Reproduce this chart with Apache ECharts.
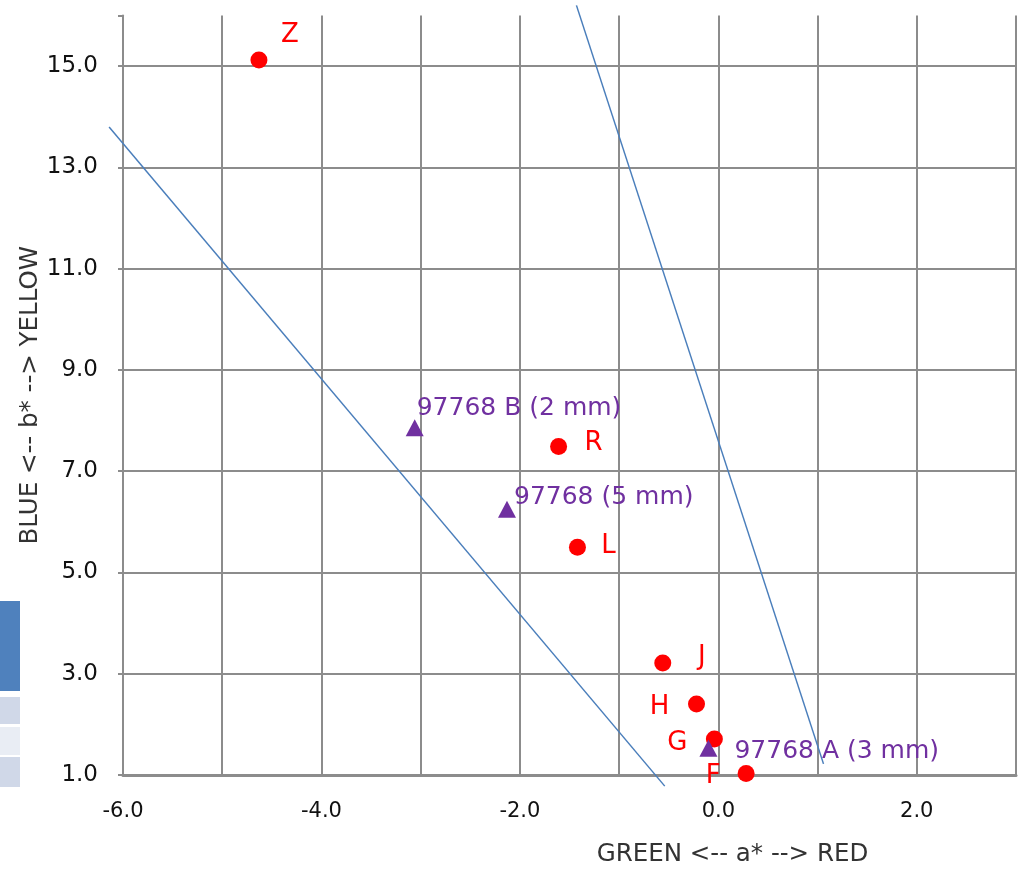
<!DOCTYPE html>
<html>
<head>
<meta charset="utf-8">
<script src="https://cdn.jsdelivr.net/npm/echarts@6/dist/echarts.min.js"></script>
<style>
  html, body { margin: 0; padding: 0; background: #fff; }
  #chart { width: 1019px; height: 872px; }
</style>
</head>
<body>
<div id="chart"></div>
<script>
// samples (red circles)
const sampleNames = ['Z', 'R', 'L', 'J', 'H', 'G', 'F']
const sampleA = [-4.63, -1.61, -1.42, -0.56, -0.22, -0.04, 0.28]
const sampleB = [15.12, 7.49, 5.50, 3.21, 2.40, 1.71, 1.03]

// reference 97768 (purple triangles)
const refNames = ['97768 B (2 mm)', '97768 (5 mm)', '97768 A (3 mm)']
const refA = [-3.06, -2.13, -0.10]
const refB = [7.86, 6.25, 1.53]

// boundary lines, two end points each
const line1A = [-6.14, -0.54]
const line1B = [13.8, 0.78]
const line2A = [-1.43, 1.06]
const line2B = [16.2, 1.22]

// label offsets from the mark centre (style only)
const sampleLabelOffset = {
  Z: [31, -25], R: [35, -3], L: [31, -1], J: [39, -6],
  H: [-37, 3], G: [-37, 4], F: [-33, 3]
}
const refLabelOffset = [[2, -19], [7, -12], [26, 3]]

const chart = echarts.init(document.getElementById('chart'))
const gridGray = '#8c8c8c'
const fontFam = '"DejaVu Sans", sans-serif'
const blueLine = { color: '#4a7ebb', width: 1.5, opacity: 1 }

const option = {
  backgroundColor: '#fff',
  animation: false,
  grid: { left: 123, right: 2, top: 15.5, bottom: 96 },
  xAxis: {
    type: 'value',
    min: -6,
    max: 3,
    interval: 1,
    name: 'GREEN <-- a* --> RED',
    nameLocation: 'middle',
    nameGap: 67,
    nameTextStyle: { fontSize: 24.5, color: '#333', fontFamily: fontFam, padding: [0, 0, 0, 326] },
    axisLine: { show: true, onZero: false, lineStyle: { color: gridGray, width: 3 } },
    axisTick: { show: false },
    axisLabel: {
      margin: 26,
      fontSize: 21,
      color: '#111',
      fontFamily: fontFam,
      formatter: (v) => (Math.round(v) % 2 === 0 && v < 3 ? v.toFixed(1) : '')
    },
    splitLine: { show: true, lineStyle: { color: gridGray, width: 2 } }
  },
  yAxis: {
    type: 'value',
    min: 1,
    max: 16,
    interval: 2,
    name: 'BLUE <-- b* --> YELLOW',
    nameLocation: 'middle',
    nameGap: 80,
    nameMoveOverlap: false,
    nameTextStyle: { fontSize: 24.5, color: '#333', fontFamily: fontFam },
    axisLine: { show: true, onZero: false, lineStyle: { color: gridGray, width: 2 } },
    axisTick: { show: true, length: 5, lineStyle: { color: gridGray, width: 2 } },
    axisLabel: {
      margin: 25,
      fontSize: 23,
      color: '#111',
      fontFamily: fontFam,
      formatter: (v) => (v >= 16 ? '' : v.toFixed(1))
    },
    splitLine: { show: true, showMaxLine: false, lineStyle: { color: gridGray, width: 2 } }
  },
  graphic: [
    { type: 'rect', left: 0, top: 601, shape: { width: 20, height: 90 }, style: { fill: '#4f81bd' } },
    { type: 'rect', left: 0, top: 697, shape: { width: 20, height: 27 }, style: { fill: '#d0d8e8' } },
    { type: 'rect', left: 0, top: 727, shape: { width: 20, height: 28 }, style: { fill: '#e9edf4' } },
    { type: 'rect', left: 0, top: 757, shape: { width: 20, height: 30 }, style: { fill: '#d0d8e8' } }
  ],
  series: [
    {
      name: 'boundaries',
      type: 'lines',
      coordinateSystem: 'cartesian2d',
      clip: false,
      lineStyle: blueLine,
      data: [
        { coords: line1A.map((a, i) => [a, line1B[i]]) },
        { coords: line2A.map((a, i) => [a, line2B[i]]) }
      ],
      z: 3
    },
    {
      name: 'samples',
      type: 'scatter',
      symbol: 'circle',
      symbolSize: 17,
      itemStyle: { color: '#ff0000', opacity: 1 },
      z: 5,
      data: sampleNames.map((n, i) => ({
        name: n,
        value: [sampleA[i], sampleB[i]],
        label: { offset: sampleLabelOffset[n] }
      })),
      label: {
        show: true,
        position: 'inside',
        align: 'center',
        verticalAlign: 'middle',
        formatter: '{b}',
        color: '#ff0000',
        fontSize: 26,
        fontFamily: fontFam
      }
    },
    {
      name: '97768',
      type: 'scatter',
      symbol: 'triangle',
      symbolSize: [18, 17],
      itemStyle: { color: '#7030a0', opacity: 1 },
      z: 5,
      data: refNames.map((n, i) => ({
        name: n,
        value: [refA[i], refB[i]],
        label: { offset: refLabelOffset[i] }
      })),
      label: {
        show: true,
        position: 'inside',
        align: 'left',
        verticalAlign: 'middle',
        formatter: '{b}',
        color: '#7030a0',
        fontSize: 25,
        fontFamily: fontFam
      }
    }
  ]
}

chart.setOption(option)
window.addEventListener('resize', () => chart.resize())
</script>
</body>
</html>
